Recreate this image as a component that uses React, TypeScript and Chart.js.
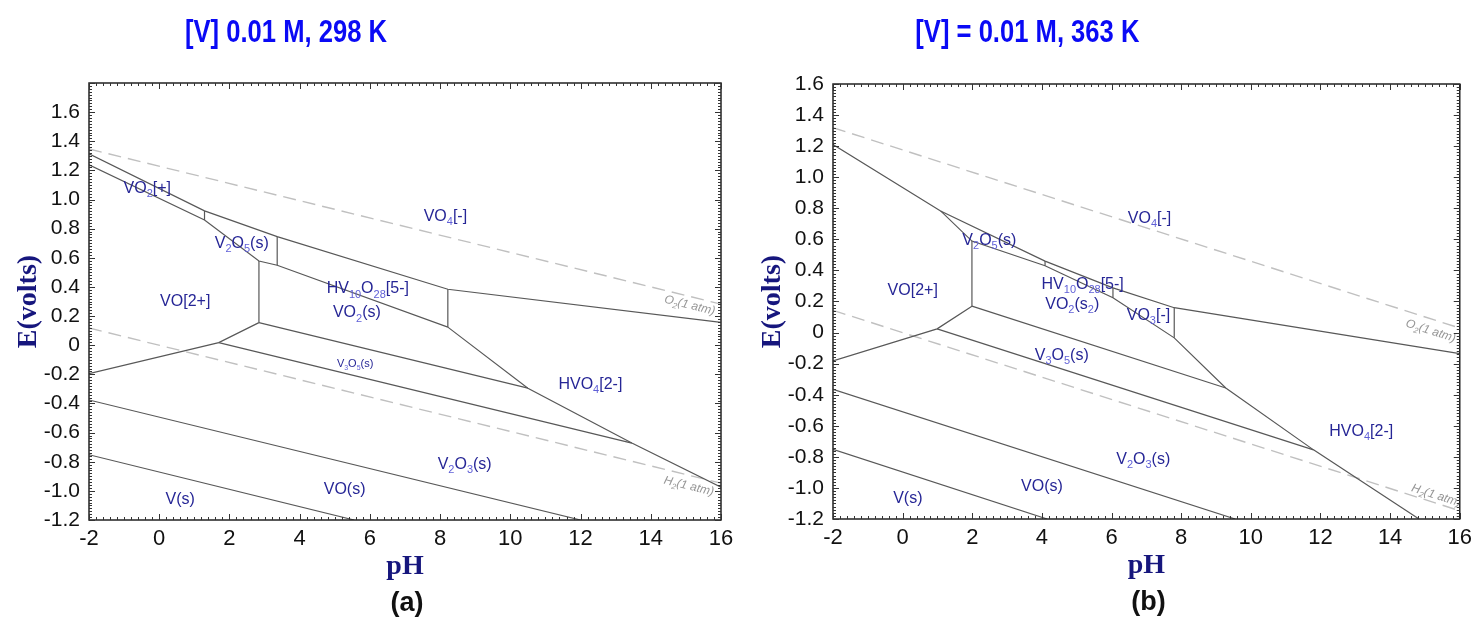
import React, { useEffect, useRef } from "react";
import { Chart, registerables } from "chart.js";

Chart.register(...registerables);

const FONT_SANS = "'Liberation Sans', Arial, Helvetica, sans-serif";
const FONT_SERIF = "'Liberation Serif', 'Times New Roman', serif";

// ---------- axis ranges ----------
const PH_MIN = -2;
const PH_MAX = 16;
const E_MIN = -1.2;
const E_MAX_298 = 1.8;
const E_MAX_363 = 1.6;

// ---------- 298 K boundaries (pH, E in volts) ----------
const ph298_vo4Top = [-2, 1.29, 3.36, 8.22, 16];
const e298_vo4Top = [1.314, 0.922, 0.745, 0.384, 0.156];
const ph298_vo2Band = [-2, 1.29, 2.84, 3.36, 8.22];
const e298_vo2Band = [1.238, 0.859, 0.578, 0.549, 0.124];
const ph298_v2o5Left = [1.29, 1.29];
const e298_v2o5Left = [0.922, 0.859];
const ph298_v2o5Right = [3.36, 3.36];
const e298_v2o5Right = [0.745, 0.549];
const ph298_vo2Left = [2.84, 2.84];
const e298_vo2Left = [0.578, 0.155];
const ph298_decaRight = [8.22, 8.22];
const e298_decaRight = [0.384, 0.124];
const ph298_vo2plus = [-2, 1.695, 2.84];
const e298_vo2plus = [-0.195, 0.018, 0.155];
const ph298_vo2V3o5 = [2.84, 10.5];
const e298_vo2V3o5 = [0.155, -0.295];
const ph298_v3o5V2o3 = [1.695, 13.46];
const e298_v3o5V2o3 = [0.018, -0.672];
const ph298_hvo4 = [8.22, 10.5, 13.46, 16];
const e298_hvo4 = [0.124, -0.295, -0.672, -0.975];
const ph298_v2o3Vo = [-2, 12.0];
const e298_v2o3Vo = [-0.376, -1.2];
const ph298_voV = [-2, 5.55];
const e298_voV = [-0.752, -1.2];
const ph298_o2 = [-2, 16];
const e298_o2 = [1.347, 0.282];
const ph298_h2 = [-2, 16];
const e298_h2 = [0.118, -0.947];

// ---------- 363 K boundaries ----------
const ph363_vo4Top = [-2, 1.09, 4.09, 6.04, 7.8, 16];
const e363_vo4Top = [1.21, 0.783, 0.46, 0.288, 0.16, -0.135];
const ph363_lower = [1.09, 1.99, 4.09, 6.04, 7.8, 9.28, 11.8, 14.83];
const e363_lower = [0.783, 0.589, 0.43, 0.224, -0.034, -0.357, -0.755, -1.2];
const ph363_v2o5Right = [4.09, 4.09];
const e363_v2o5Right = [0.46, 0.43];
const ph363_decaRight = [6.04, 6.04];
const e363_decaRight = [0.288, 0.224];
const ph363_vo3Right = [7.8, 7.8];
const e363_vo3Right = [0.16, -0.034];
const ph363_vo2Left = [1.99, 1.99];
const e363_vo2Left = [0.589, 0.17];
const ph363_vo2plus = [-2, 0.99, 1.99];
const e363_vo2plus = [-0.182, 0.024, 0.17];
const ph363_vo2V3o5 = [1.99, 9.28];
const e363_vo2V3o5 = [0.17, -0.357];
const ph363_v3o5V2o3 = [0.99, 11.8];
const e363_v3o5V2o3 = [0.024, -0.755];
const ph363_v2o3Vo = [-2, 9.55];
const e363_v2o3Vo = [-0.366, -1.2];
const ph363_voV = [-2, 4.15];
const e363_voV = [-0.752, -1.2];
const ph363_o2 = [-2, 16];
const e363_o2 = [1.319, 0.029];
const ph363_h2 = [-2, 16];
const e363_h2 = [0.143, -1.147];

// ---------- species names placed inside their domains ----------
const LABELS_298 = [
  { text: "VO{2}[+]", ph: -0.34, e: 1.085 },
  { text: "V{2}O{5}(s)", ph: 2.35, e: 0.707 },
  { text: "VO[2+]", ph: 0.74, e: 0.31 },
  { text: "HV{10}O{28}[5-]", ph: 5.94, e: 0.395 },
  { text: "VO{2}(s)", ph: 5.63, e: 0.23 },
  { text: "V{3}O{5}(s)", ph: 5.58, e: -0.124, small: true },
  { text: "VO{4}[-]", ph: 8.15, e: 0.893 },
  { text: "HVO{4}[2-]", ph: 12.28, e: -0.26 },
  { text: "V{2}O{3}(s)", ph: 8.7, e: -0.81 },
  { text: "VO(s)", ph: 5.28, e: -0.98 },
  { text: "V(s)", ph: 0.6, e: -1.05 },
];

const LABELS_363 = [
  { text: "V{2}O{5}(s)", ph: 2.49, e: 0.6 },
  { text: "VO{4}[-]", ph: 7.09, e: 0.745 },
  { text: "HV{10}O{28}[5-]", ph: 5.17, e: 0.32 },
  { text: "VO{2}(s{2})", ph: 4.87, e: 0.187 },
  { text: "VO{3}[-]", ph: 7.06, e: 0.116 },
  { text: "VO[2+]", ph: 0.29, e: 0.28 },
  { text: "V{3}O{5}(s)", ph: 4.57, e: -0.14 },
  { text: "HVO{4}[2-]", ph: 13.17, e: -0.626 },
  { text: "V{2}O{3}(s)", ph: 6.91, e: -0.806 },
  { text: "VO(s)", ph: 4.0, e: -0.98 },
  { text: "V(s)", ph: 0.15, e: -1.06 },
];

type Boundary = { ph: number[]; e: number[]; dashed?: boolean };

const BOUNDS_298: Boundary[] = [
  { ph: ph298_vo4Top, e: e298_vo4Top },
  { ph: ph298_vo2Band, e: e298_vo2Band },
  { ph: ph298_v2o5Left, e: e298_v2o5Left },
  { ph: ph298_v2o5Right, e: e298_v2o5Right },
  { ph: ph298_vo2Left, e: e298_vo2Left },
  { ph: ph298_decaRight, e: e298_decaRight },
  { ph: ph298_vo2plus, e: e298_vo2plus },
  { ph: ph298_vo2V3o5, e: e298_vo2V3o5 },
  { ph: ph298_v3o5V2o3, e: e298_v3o5V2o3 },
  { ph: ph298_hvo4, e: e298_hvo4 },
  { ph: ph298_v2o3Vo, e: e298_v2o3Vo },
  { ph: ph298_voV, e: e298_voV },
  { ph: ph298_o2, e: e298_o2, dashed: true },
  { ph: ph298_h2, e: e298_h2, dashed: true },
];

const BOUNDS_363: Boundary[] = [
  { ph: ph363_vo4Top, e: e363_vo4Top },
  { ph: ph363_lower, e: e363_lower },
  { ph: ph363_v2o5Right, e: e363_v2o5Right },
  { ph: ph363_decaRight, e: e363_decaRight },
  { ph: ph363_vo3Right, e: e363_vo3Right },
  { ph: ph363_vo2Left, e: e363_vo2Left },
  { ph: ph363_vo2plus, e: e363_vo2plus },
  { ph: ph363_vo2V3o5, e: e363_vo2V3o5 },
  { ph: ph363_v3o5V2o3, e: e363_v3o5V2o3 },
  { ph: ph363_v2o3Vo, e: e363_v2o3Vo },
  { ph: ph363_voV, e: e363_voV },
  { ph: ph363_o2, e: e363_o2, dashed: true },
  { ph: ph363_h2, e: e363_h2, dashed: true },
];

type GasLabel = { text: string; ph: number[]; e: number[]; at: number; offset: number };

const GAS_298: GasLabel[] = [
  { text: "O{2}(1 atm)", ph: ph298_o2, e: e298_o2, at: 14.45, offset: 12 },
  { text: "H{2}(1 atm)", ph: ph298_h2, e: e298_h2, at: 14.45, offset: 14 },
];
const GAS_363: GasLabel[] = [
  { text: "O{2}(1 atm)", ph: ph363_o2, e: e363_o2, at: 14.56, offset: 15 },
  { text: "H{2}(1 atm)", ph: ph363_h2, e: e363_h2, at: 14.56, offset: -4 },
];

type PanelCfg = {
  title: string;
  tag: string;
  eMax: number;
  bounds: Boundary[];
  labels: { text: string; ph: number; e: number; small?: boolean }[];
  gas: GasLabel[];
  canvasLeft: number;
  canvasWidth: number;
  padTop: number;
  padRight: number;
  yWidth: number;
  xHeight: number;
};

// ---------- rich text with {subscripts} ----------
function parseRich(s: string) {
  const out: { t: string; sub: boolean }[] = [];
  const re = /([^{]+)|\{([^}]*)\}/g;
  let m: RegExpExecArray | null;
  while ((m = re.exec(s))) {
    if (m[1] !== undefined) out.push({ t: m[1], sub: false });
    else out.push({ t: m[2], sub: true });
  }
  return out;
}

function drawRich(
  ctx: CanvasRenderingContext2D,
  s: string,
  x: number,
  baseline: number,
  size: number,
  color: string,
  subColor: string,
  italic: boolean,
  align: "center" | "left"
) {
  const parts = parseRich(s);
  const style = italic ? "italic " : "";
  const mainFont = `${style}${size}px ${FONT_SANS}`;
  const subFont = `${style}${Math.round(size * 0.66)}px ${FONT_SANS}`;
  ctx.textAlign = "left";
  ctx.textBaseline = "alphabetic";
  let total = 0;
  const widths = parts.map((p) => {
    ctx.font = p.sub ? subFont : mainFont;
    const w = ctx.measureText(p.t).width;
    total += w;
    return w;
  });
  let cx = align === "center" ? x - total / 2 : x;
  parts.forEach((p, i) => {
    ctx.font = p.sub ? subFont : mainFont;
    ctx.fillStyle = p.sub ? subColor : color;
    ctx.fillText(p.t, cx, p.sub ? baseline + size * 0.26 : baseline);
    cx += widths[i];
  });
}

function makeDecor(cfg: PanelCfg) {
  return {
    id: "pourbaixDecor",
    afterDatasetsDraw(chart: any) {
      const { ctx, chartArea: a } = chart;
      const xs = chart.scales.x;
      const ys = chart.scales.y;

      // gas-line captions, clipped to the plot
      ctx.save();
      ctx.beginPath();
      ctx.rect(a.left, a.top, a.right - a.left, a.bottom - a.top);
      ctx.clip();
      cfg.gas.forEach((g) => {
        const x0 = xs.getPixelForValue(g.ph[0]);
        const y0 = ys.getPixelForValue(g.e[0]);
        const x1 = xs.getPixelForValue(g.ph[1]);
        const y1 = ys.getPixelForValue(g.e[1]);
        const ang = Math.atan2(y1 - y0, x1 - x0);
        const px = xs.getPixelForValue(g.at);
        const t = (px - x0) / (x1 - x0);
        const py = y0 + t * (y1 - y0);
        ctx.save();
        ctx.translate(px, py);
        ctx.rotate(ang);
        drawRich(ctx, g.text, 0, g.offset, 12, "rgb(150,150,150)", "rgb(150,150,150)", true, "left");
        ctx.restore();
      });
      ctx.restore();

      // species names
      cfg.labels.forEach((l) => {
        const px = xs.getPixelForValue(l.ph);
        const py = ys.getPixelForValue(l.e);
        const size = l.small ? 11 : 16;
        drawRich(ctx, l.text, px, py + size * 0.36, size, "rgb(38,38,150)", "rgb(95,95,215)", false, "center");
      });

      // frame
      ctx.save();
      ctx.strokeStyle = "#222";
      ctx.lineWidth = 1.5;
      ctx.strokeRect(a.left, a.top, a.right - a.left, a.bottom - a.top);

      // inward ticks on all four sides
      ctx.strokeStyle = "#333";
      ctx.lineWidth = 1;
      ctx.beginPath();
      const nx = Math.round((PH_MAX - PH_MIN) / 0.2);
      for (let i = 0; i <= nx; i++) {
        const v = PH_MIN + i * 0.2;
        const px = Math.round(xs.getPixelForValue(v)) + 0.5;
        const len = i % 10 === 0 ? 6 : 3;
        ctx.moveTo(px, a.bottom);
        ctx.lineTo(px, a.bottom - len);
        ctx.moveTo(px, a.top);
        ctx.lineTo(px, a.top + len);
      }
      const ny = Math.round((cfg.eMax - E_MIN) / 0.02);
      for (let i = 0; i <= ny; i++) {
        const v = E_MIN + i * 0.02;
        const py = Math.round(ys.getPixelForValue(v)) + 0.5;
        const len = i % 10 === 0 ? 6 : 3;
        ctx.moveTo(a.left, py);
        ctx.lineTo(a.left + len, py);
        ctx.moveTo(a.right, py);
        ctx.lineTo(a.right - len, py);
      }
      ctx.stroke();
      ctx.restore();
    },
    afterDraw(chart: any) {
      const { ctx, chartArea: a } = chart;
      const cx = (a.left + a.right) / 2;
      const cy = (a.top + a.bottom) / 2;
      ctx.save();

      // panel heading (condensed bold)
      ctx.fillStyle = "rgb(10,10,245)";
      ctx.font = `bold 32px ${FONT_SANS}`;
      ctx.textAlign = "center";
      ctx.textBaseline = "alphabetic";
      ctx.save();
      ctx.translate(cx - 119, 42);
      ctx.scale(0.8, 1);
      ctx.fillText(cfg.title, 0, 0);
      ctx.restore();

      // axis titles
      ctx.fillStyle = "rgb(22,22,125)";
      ctx.font = `bold 28px ${FONT_SERIF}`;
      ctx.fillText("pH", cx, a.bottom + 54);
      ctx.save();
      ctx.translate(a.left - 53, cy);
      ctx.rotate(-Math.PI / 2);
      ctx.fillText("E(volts)", 0, 0);
      ctx.restore();

      // panel tag
      ctx.fillStyle = "#111";
      ctx.font = `bold 27px ${FONT_SANS}`;
      ctx.fillText(cfg.tag, cx + 2, a.bottom + 91);
      ctx.restore();
    },
  };
}

function Panel({ cfg }: { cfg: PanelCfg }) {
  const ref = useRef<HTMLCanvasElement | null>(null);
  useEffect(() => {
    if (!ref.current) return;
    const datasets = cfg.bounds.map((b) => ({
      data: b.ph.map((p, i) => ({ x: p, y: b.e[i] })),
      borderColor: b.dashed ? "rgb(192,192,192)" : "rgb(88,88,88)",
      borderWidth: b.dashed ? 1.4 : 1.2,
      borderDash: b.dashed ? [13, 7] : [],
      pointRadius: 0,
      fill: false,
      tension: 0,
    }));
    const chart = new Chart(ref.current, {
      type: "line",
      data: { datasets },
      options: {
        responsive: false,
        animation: false,
        events: [],
        layout: { padding: { left: 0, top: cfg.padTop, right: cfg.padRight, bottom: 0 } },
        plugins: {
          legend: { display: false },
          tooltip: { enabled: false },
          title: { display: false },
        },
        scales: {
          x: {
            type: "linear",
            min: PH_MIN,
            max: PH_MAX,
            grid: { display: false, drawTicks: false },
            border: { display: false },
            ticks: {
              stepSize: 2,
              autoSkip: false,
              maxRotation: 0,
              padding: 6,
              color: "#111",
              font: { size: 22, family: FONT_SANS },
              callback: (v: any) => String(Math.round(Number(v))),
            },
            afterFit: (s: any) => {
              s.height = cfg.xHeight;
            },
          },
          y: {
            type: "linear",
            min: E_MIN,
            max: cfg.eMax,
            grid: { display: false, drawTicks: false },
            border: { display: false },
            ticks: {
              stepSize: 0.2,
              autoSkip: false,
              padding: 9,
              color: "#111",
              font: { size: 21, family: FONT_SANS },
              callback: (v: any) => {
                const n = Number(v);
                if (n > 1.65) return "";
                if (Math.abs(n) < 1e-6) return "0";
                return n.toFixed(1);
              },
            },
            afterFit: (s: any) => {
              s.width = cfg.yWidth;
            },
          },
        },
      },
      plugins: [makeDecor(cfg)],
    } as any);
    return () => chart.destroy();
  }, [cfg]);
  return (
    <canvas
      ref={ref}
      width={cfg.canvasWidth}
      height={628}
      style={{ position: "absolute", left: cfg.canvasLeft, top: 0, width: cfg.canvasWidth, height: 628 }}
    />
  );
}

const PANEL_298: PanelCfg = {
  title: "[V] 0.01 M, 298 K",
  tag: "(a)",
  eMax: E_MAX_298,
  bounds: BOUNDS_298,
  labels: LABELS_298,
  gas: GAS_298,
  canvasLeft: 0,
  canvasWidth: 740,
  padTop: 83,
  padRight: 19,
  yWidth: 89,
  xHeight: 108,
};

const PANEL_363: PanelCfg = {
  title: "[V] = 0.01 M, 363 K",
  tag: "(b)",
  eMax: E_MAX_363,
  bounds: BOUNDS_363,
  labels: LABELS_363,
  gas: GAS_363,
  canvasLeft: 740,
  canvasWidth: 738,
  padTop: 84,
  padRight: 15,
  yWidth: 93,
  xHeight: 109,
};

export default function App() {
  return (
    <div style={{ position: "absolute", left: 0, top: 0, width: 1478, height: 628, background: "#fff" }}>
      <Panel cfg={PANEL_298} />
      <Panel cfg={PANEL_363} />
    </div>
  );
}
